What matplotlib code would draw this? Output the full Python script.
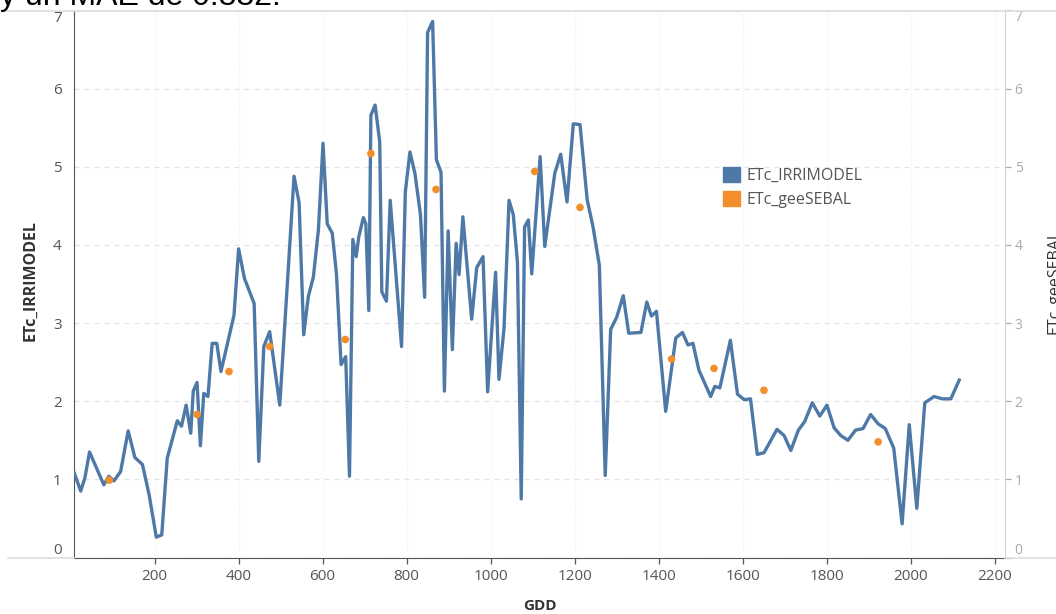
import matplotlib
matplotlib.use("Agg")
import matplotlib.pyplot as plt
from matplotlib.patches import Patch
from matplotlib.lines import Line2D

plt.rcParams['font.family'] = ['Open Sans', 'DejaVu Sans']

# ETc from IRRIMODEL (daily series against accumulated GDD)
gdd_irri = [8, 24, 34, 45, 79, 91, 103, 119, 137, 153, 171, 187, 204, 217, 230, 254,
            264, 275, 286, 292, 301, 309, 317, 327, 337, 348, 358, 389, 400, 414, 437,
            448, 460, 474, 498, 532, 544, 555, 566, 578, 590, 601, 611, 623, 633, 644,
            655, 664, 672, 680, 686, 697, 703, 710, 715, 725, 736, 741, 752, 761, 788,
            797, 808, 820, 833, 843, 850, 862, 871, 882, 890, 899, 909, 918, 925, 934,
            955, 967, 982, 993, 1012, 1020, 1032, 1044, 1054, 1064, 1073, 1081, 1090,
            1098, 1118, 1129, 1153, 1167, 1182, 1197, 1213, 1230, 1244, 1259, 1273,
            1286, 1300, 1316, 1329, 1358, 1372, 1383, 1395, 1417, 1441, 1457, 1470,
            1482, 1496, 1524, 1534, 1546, 1571, 1588, 1604, 1619, 1635, 1651, 1682,
            1699, 1715, 1733, 1748, 1766, 1784, 1801, 1818, 1834, 1851, 1869, 1887,
            1905, 1923, 1940, 1960, 1980, 1997, 2015, 2034, 2056, 2076, 2096, 2116]
etc_irri = [1.09, 0.85, 1.02, 1.35, 0.93, 1.04, 0.98, 1.10, 1.62, 1.28, 1.19, 0.80, 0.26,
            0.29, 1.27, 1.75, 1.68, 1.95, 1.59, 2.13, 2.24, 1.43, 2.10, 2.06, 2.74, 2.74,
            2.38, 3.10, 3.95, 3.57, 3.25, 1.23, 2.70, 2.89, 1.95, 4.88, 4.54, 2.85, 3.34,
            3.59, 4.19, 5.30, 4.27, 4.15, 3.63, 2.47, 2.57, 1.04, 4.07, 3.85, 4.10, 4.35,
            4.27, 3.16, 5.66, 5.79, 5.32, 3.40, 3.28, 4.57, 2.70, 4.68, 5.19, 4.91, 4.39,
            3.33, 6.72, 6.86, 5.09, 4.93, 2.13, 4.18, 2.66, 4.02, 3.62, 4.36, 3.05, 3.71,
            3.85, 2.12, 3.65, 2.28, 2.93, 4.57, 4.39, 3.78, 0.75, 4.23, 4.32, 3.63, 5.13,
            3.98, 4.92, 5.16, 4.55, 5.55, 5.54, 4.58, 4.23, 3.74, 1.05, 2.92, 3.07, 3.35,
            2.87, 2.88, 3.27, 3.09, 3.15, 1.87, 2.81, 2.88, 2.72, 2.74, 2.40, 2.06, 2.19,
            2.17, 2.78, 2.09, 2.02, 2.03, 1.32, 1.34, 1.64, 1.56, 1.37, 1.63, 1.74, 1.98,
            1.81, 1.95, 1.66, 1.56, 1.50, 1.63, 1.65, 1.83, 1.71, 1.65, 1.40, 0.43, 1.70,
            0.63, 1.98, 2.06, 2.03, 2.03, 2.27]

# ETc estimated with geeSEBAL (satellite overpass dates)
gdd_sebal = [92, 301, 377, 474, 654, 715, 870, 1105, 1213, 1431, 1532, 1651, 1923]
etc_sebal = [0.99, 1.83, 2.38, 2.70, 2.79, 5.17, 4.71, 4.94, 4.48, 2.54, 2.42, 2.14, 1.48]

x_ticks = [200, 400, 600, 800, 1000, 1200, 1400, 1600, 1800, 2000, 2200]
y_ticks = [0, 1, 2, 3, 4, 5, 6, 7]

blue = '#4e79a7'
orange = '#f28e2b'

W, H = 1056, 614
fig = plt.figure(figsize=(W / 100, H / 100), dpi=100)
left, right, top, bottom = 74, 1005, 10.5, 557.5
ax = fig.add_axes([left / W, 1 - bottom / H, (right - left) / W, (bottom - top) / H])
ax2 = ax.twinx()

ax.plot(gdd_irri, etc_irri, color=blue, lw=2.4, solid_joinstyle='round', zorder=3)
ax2.scatter(gdd_sebal, etc_sebal, s=30, color=orange, edgecolors='none', zorder=4)

for a in (ax, ax2):
    a.set_xlim(8, 2225)
    a.set_ylim(0, 7)
    a.set_yticks(y_ticks)
    a.set_yticklabels([str(v) for v in y_ticks])

ax.set_xticks(x_ticks)
ax.set_xticklabels([str(v) for v in x_ticks])

# grid: dashed horizontals, faint dotted verticals
ax.set_axisbelow(True)
ax.yaxis.grid(True, color='#e3e3e3', lw=0.9, ls=(0, (4, 4)))
ax.xaxis.grid(True, color='#efefef', lw=0.8, ls=(0, (1, 2)))

# spines
ax.spines['top'].set_visible(False)
ax2.spines['top'].set_visible(False)
ax.spines['left'].set_color('#555555')
ax.spines['bottom'].set_color('#555555')
ax.spines['right'].set_visible(False)
ax2.spines['left'].set_visible(False)
ax2.spines['bottom'].set_visible(False)
ax2.spines['right'].set_color('#d4d4d4')

ax.tick_params(axis='y', length=0, pad=9, labelsize=11, labelcolor='#555555')
ax.tick_params(axis='x', length=4, width=0.9, color='#555555', pad=4, labelsize=11,
               labelcolor='#555555')
ax2.tick_params(axis='y', length=4, width=0.9, color='#aaaaaa', pad=3, labelsize=10,
                labelcolor='#aaaaaa')

# end labels sit inside the axis range
for a in (ax, ax2):
    lbls = a.get_yticklabels()
    lbls[0].set_va('bottom')
    lbls[-1].set_va('top')

ax.set_xlabel('GDD', fontsize=11, fontweight='bold', color='#333333', labelpad=11)
fig.text(30 / W, 1 - 281 / H, 'ETc_IRRIMODEL', rotation=90, ha='center', va='center',
         fontsize=11.5, fontweight='bold', color='#333333')
fig.text(1054 / W, 1 - 281 / H, 'ETc_geeSEBAL', rotation=90, ha='center', va='center',
         fontsize=11.5, color='#333333')

# light frame lines running past the pane
fig.add_artist(Line2D([8 / W, 1], [1 - 11 / H] * 2, color='#dddddd', lw=1.2))
fig.add_artist(Line2D([8 / W, left / W], [1 - bottom / H] * 2, color='#dddddd', lw=1.2))
fig.add_artist(Line2D([right / W, 1], [1 - bottom / H] * 2, color='#dddddd', lw=1.2))

fig.text(0, 1 - 5 / H, 'y un MAE de 0.832.', ha='left', va='baseline', fontsize=23,
         color='black', family=['Liberation Sans', 'DejaVu Sans'])

handles = [Patch(color=blue, label='ETc_IRRIMODEL'),
           Patch(color=orange, label='ETc_geeSEBAL')]
fig.legend(handles=handles, loc='upper left', bbox_to_anchor=(723 / W, 1 - 167 / H),
           bbox_transform=fig.transFigure, frameon=False, fontsize=11.5,
           handlelength=1.05, handleheight=1.05, handletextpad=0.4, labelspacing=0.45,
           borderpad=0, borderaxespad=0, labelcolor='#555555')

fig.savefig('out.png', dpi=100)
